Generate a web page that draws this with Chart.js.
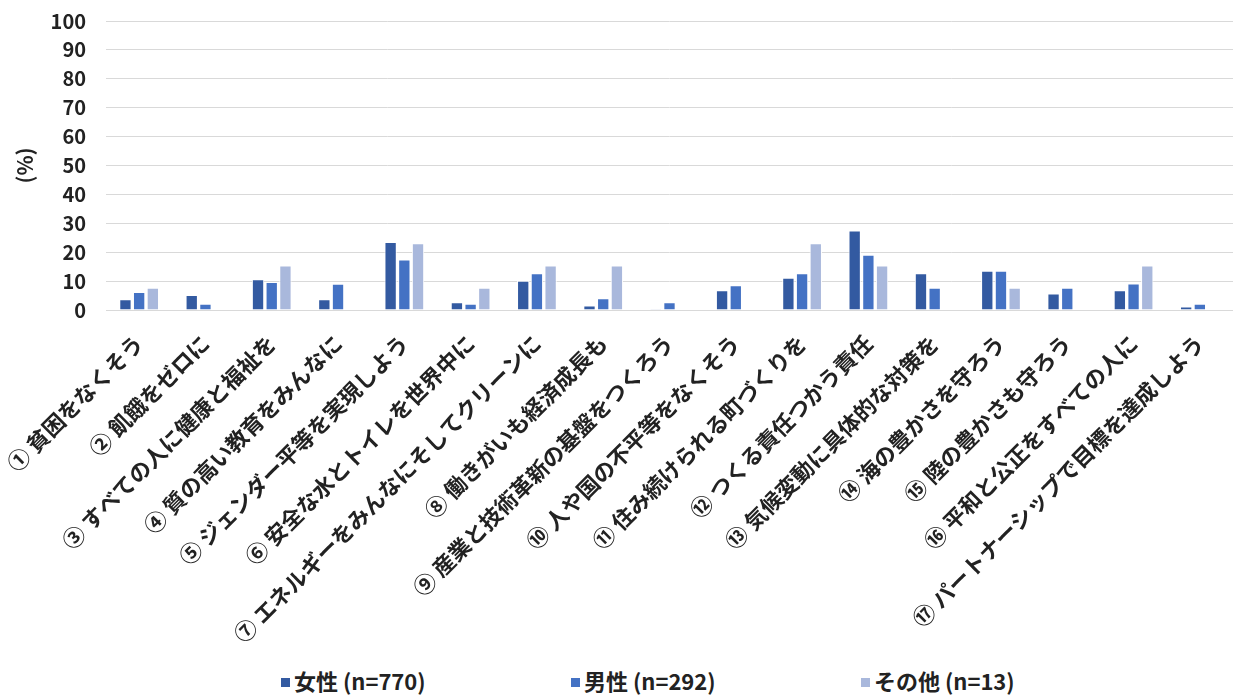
<!DOCTYPE html>
<html>
<head>
<meta charset="utf-8">
<script src="https://cdn.jsdelivr.net/npm/chart.js@4.4.1/dist/chart.umd.min.js"></script>
<style>
  html, body { margin:0; padding:0; background:#fff; overflow:hidden; }
  #wrap { position:relative; width:1233px; height:695px; }
  #chart { position:absolute; left:0; top:0; }
  .legend { position:absolute; top:664px; font: bold 22px "Noto Sans CJK JP", sans-serif; color:#222; white-space:nowrap; }
  .legend i { display:inline-block; width:9px; height:9px; margin-right:4px; vertical-align:3px; }
</style>
</head>
<body>
<div id="wrap">
  <canvas id="chart" width="1233" height="662"></canvas>
  <div id="legend"></div>
</div>
<script>
// SDGs 項目ごとの回答割合 (%)
const categories = [
  "① 貧困をなくそう",
  "② 飢餓をゼロに",
  "③ すべての人に健康と福祉を",
  "④ 質の高い教育をみんなに",
  "⑤ ジェンダー平等を実現しよう",
  "⑥ 安全な水とトイレを世界中に",
  "⑦ エネルギーをみんなにそしてクリーンに",
  "⑧ 働きがいも経済成長も",
  "⑨ 産業と技術革新の基盤をつくろう",
  "⑩ 人や国の不平等をなくそう",
  "⑪ 住み続けられる町づくりを",
  "⑫ つくる責任つかう責任",
  "⑬ 気候変動に具体的な対策を",
  "⑭ 海の豊かさを守ろう",
  "⑮ 陸の豊かさも守ろう",
  "⑯ 平和と公正をすべての人に",
  "⑰ パートナーシップで目標を達成しよう"
];
const female = [3.7, 5.2, 10.6, 3.7, 23.5, 2.7, 10.1, 1.6, 0.3, 6.8, 11.2, 27.5, 12.7, 13.6, 5.7, 6.8, 1.2];
const male   = [6.2, 2.2, 9.7, 9.1, 17.5, 2.2, 12.7, 4.1, 2.7, 8.6, 12.7, 19.1, 7.7, 13.6, 7.7, 9.2, 2.2];
const other  = [7.7, 0, 15.4, 0, 23.1, 7.7, 15.4, 15.4, 0, 0, 23.1, 15.4, 0, 7.7, 0, 15.4, 0];
const seriesNames = ["女性 (n=770)", "男性 (n=292)", "その他 (n=13)"];
const colors = ["#335AA1", "#4472C4", "#A9B8DC"];

const FONT = '"Noto Sans CJK JP", "Noto Sans", sans-serif';

// 凡例は HTML で描く
const legendLeft = [281, 571, 861];
const legend = document.getElementById("legend");
seriesNames.forEach((name, i) => {
  const d = document.createElement("div");
  d.className = "legend";
  d.style.left = legendLeft[i] + "px";
  d.innerHTML = `<i style="background:${colors[i]}"></i>${name}`;
  legend.appendChild(d);
});

const datasets = [female, male, other].map((data, i) => ({
  label: seriesNames[i],
  data,
  backgroundColor: colors[i],
  borderColor: "#ffffff",
  borderWidth: 1,
  categoryPercentage: 0.62,
  barPercentage: 0.9
}));

new Chart(document.getElementById("chart"), {
  type: "bar",
  data: { labels: categories, datasets },
  options: {
    responsive: false,
    animation: false,
    layout: { padding: { top: 9, right: 0, left: 0, bottom: 0 } },
    plugins: {
      legend: { display: false },
      tooltip: { enabled: false }
    },
    scales: {
      x: {
        grid: { display: false },
        border: { color: "#d9d9d9" },
        ticks: {
          color: "#222",
          font: { family: FONT, size: 22, weight: "bold" },
          minRotation: 45, maxRotation: 45,
          autoSkip: false, padding: 12
        },
        // ラベルが長いので軸の高さを固定、左の余白は y 軸に任せる
        afterFit: (scale) => { scale.height = 352; scale.paddingLeft = 0; }
      },
      y: {
        min: 0, max: 100,
        grid: { color: "#d9d9d9", drawTicks: false },
        border: { display: false },
        ticks: {
          stepSize: 10, padding: 20,
          color: "#222",
          font: { family: FONT, size: 20, weight: "bold" }
        },
        afterFit: (scale) => { scale.paddingTop = 21; scale.width = 106; },
        title: {
          display: true, text: "(%)",
          color: "#222",
          font: { family: FONT, size: 21, weight: "bold" },
          padding: { top: 12, bottom: 0 }
        }
      }
    }
  }
});
</script>
</body>
</html>
